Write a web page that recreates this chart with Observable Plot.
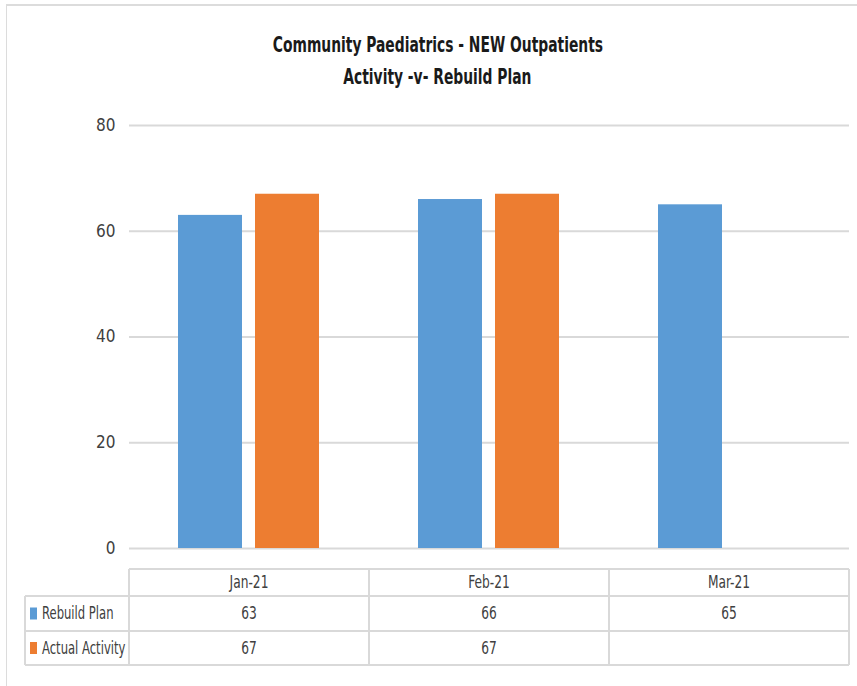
<!DOCTYPE html>
<html>
<head>
<meta charset="utf-8">
<script src="https://cdn.jsdelivr.net/npm/d3@7"></script>
<script src="https://cdn.jsdelivr.net/npm/@observablehq/plot@0.6"></script>
<style>
  html, body { margin: 0; padding: 0; background: #fff; }
  body { width: 857px; height: 686px; position: relative; overflow: hidden;
         font-family: "Liberation Sans Narrow", "DejaVu Sans Condensed", "DejaVu Sans", sans-serif; }
  #frame { position: absolute; left: 6px; top: 4px; width: 860px; height: 700px;
           border-top: 2px solid #dcdcdc; border-left: 1px solid #dcdcdc; }
  #title { position: absolute; left: 0; top: 29px; width: 875px; text-align: center;
           font-weight: bold; font-size: 22px; line-height: 32px; color: #1a1a1a; }
  #title span { display: inline-block; transform: scaleX(0.70); white-space: nowrap; }
  #chart { position: absolute; left: 0; top: 100px; }
  #table { position: absolute; left: 0; top: 0; }
</style>
</head>
<body>
<div id="frame"></div>
<div id="title"><span>Community Paediatrics - NEW Outpatients</span><br><span>Activity -v- Rebuild Plan</span></div>
<div id="chart"></div>
<svg id="table" width="857" height="686"></svg>
<script>
const months = ["Jan-21", "Feb-21", "Mar-21"];
const seriesNames = ["Rebuild Plan", "Actual Activity"];
const rebuildPlan = [63, 66, 65];
const actualActivity = [67, 67, null];
const colors = ["#5B9BD5", "#ED7D31"];
const yTicks = [0, 20, 40, 60, 80];

const data = [];
months.forEach((m, i) => {
  if (rebuildPlan[i] != null) data.push({month: m, series: seriesNames[0], value: rebuildPlan[i]});
  if (actualActivity[i] != null) data.push({month: m, series: seriesNames[1], value: actualActivity[i]});
});

const font = "'Liberation Sans Narrow', 'DejaVu Sans Condensed', 'DejaVu Sans', sans-serif";
const chart = Plot.plot({
  width: 857,
  height: 460,
  marginTop: 25,
  marginBottom: 12,
  marginLeft: 128,
  marginRight: 7,
  style: {fontFamily: font, fontSize: "17px", color: "#404040", overflow: "visible"},
  fx: {domain: months, padding: 0, axis: null},
  x: {domain: seriesNames, paddingInner: 0.168, paddingOuter: 0.632, axis: null},
  y: {domain: [0, 80], ticks: yTicks, tickSize: 0, tickPadding: 14, label: null},
  color: {domain: seriesNames, range: colors},
  marks: [
    Plot.gridY(yTicks, {stroke: "#d9d9d9", strokeOpacity: 1, strokeWidth: 2}),
    Plot.barY(data, {fx: "month", x: "series", y: "value", fill: "series"}),
    Plot.axisY({ticks: yTicks, tickSize: 0, tickPadding: 14, fontSize: 17, fill: "#404040"})
  ]
});
document.getElementById("chart").appendChild(chart);

// Data table under the chart, aligned on the plot's own fx scale
const fx = chart.scale("fx");
const bw = fx.bandwidth;
const svg = d3.select("#table");
const gridC = "#d9d9d9";
const tTop = 569, r1 = 596, r2 = 631, tBot = 665;
const labelLeft = 25;
const left0 = fx.apply(months[0]);
const right0 = fx.apply(months[months.length - 1]) + bw;
const g = svg.append("g").attr("fill", "none").attr("stroke", gridC).attr("stroke-width", 2);
g.append("line").attr("x1", left0).attr("x2", right0).attr("y1", tTop).attr("y2", tTop);
[r1, r2, tBot].forEach(y => g.append("line").attr("x1", labelLeft).attr("x2", right0).attr("y1", y).attr("y2", y));
g.append("line").attr("x1", labelLeft).attr("x2", labelLeft).attr("y1", r1).attr("y2", tBot);
months.forEach(m => {
  const x = fx.apply(m);
  g.append("line").attr("x1", x).attr("x2", x).attr("y1", tTop).attr("y2", tBot);
});
g.append("line").attr("x1", right0).attr("x2", right0).attr("y1", tTop).attr("y2", tBot);

const txt = svg.append("g").attr("font-family", font).attr("font-size", 17).attr("fill", "#404040");
function put(x, y, s, anchor, sx) {
  txt.append("text")
    .attr("transform", `translate(${x},${y}) scale(${sx},1)`)
    .attr("dy", "0.35em").attr("text-anchor", anchor).text(s);
}
months.forEach((m, i) => {
  const cx = fx.apply(m) + bw / 2;
  put(cx, (tTop + r1) / 2, m, "middle", 0.8);
  if (rebuildPlan[i] != null) put(cx, (r1 + r2) / 2, rebuildPlan[i], "middle", 0.8);
  if (actualActivity[i] != null) put(cx, (r2 + tBot) / 2, actualActivity[i], "middle", 0.8);
});
[[r1, r2], [r2, tBot]].forEach(([a, b], k) => {
  const cy = (a + b) / 2;
  svg.append("rect").attr("x", 30).attr("y", cy - 6).attr("width", 7).attr("height", 12).attr("fill", colors[k]);
  put(42, cy, seriesNames[k], "start", 0.76);
});
</script>
</body>
</html>
